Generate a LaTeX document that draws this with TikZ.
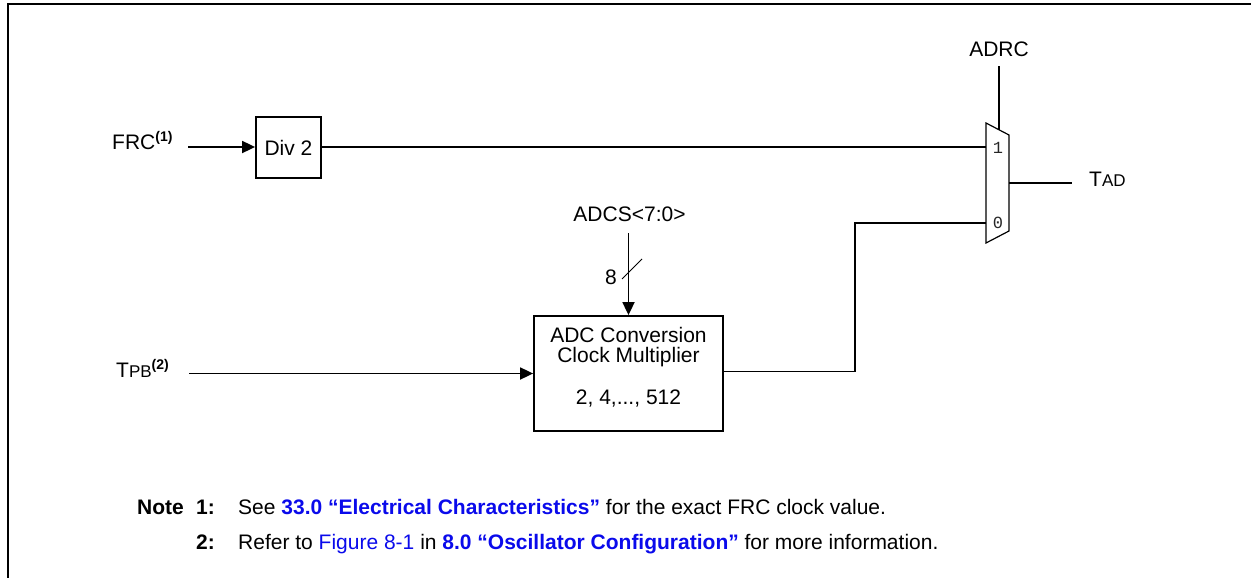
\documentclass[tikz,border=0pt]{standalone}
\usepackage{fontspec}
\setmainfont{Liberation Sans}
\newfontfamily\muxfont{Liberation Mono}
\usetikzlibrary{arrows.meta}
\definecolor{linkblue}{RGB}{10,10,235}
\newcommand{\supnum}[1]{\raisebox{7.5pt}{\fontsize{14}{14}\selectfont\bfseries #1}}
\begin{document}
\begin{tikzpicture}[x=1pt,y=-1pt,
  wire/.style={line width=1.8pt},
  arr/.style={wire,-{Triangle[length=13pt,width=12pt]}},
  blk/.style={draw,line width=1.8pt,inner sep=0pt},
  lbl/.style={font=\fontsize{21}{20}\selectfont,inner sep=0pt},
  notef/.style={font=\fontsize{21}{21}\selectfont,inner sep=0pt,anchor=base west},
  muxlbl/.style={font=\muxfont\fontsize{17}{17}\selectfont,inner sep=0pt,text=black!85}]
\useasboundingbox (0,0) rectangle (1251,578);
% frame
\draw[line width=2.2pt] (8,578) -- (8,4) -- (1251,4);

% FRC path
\node[lbl,anchor=base west] (frc) at (112,149) {FRC\supnum{(1)}};
\coordinate (frcin) at (188,147);
\node[blk,lbl,minimum width=65pt,minimum height=61pt] (div) at (288.5,147.5) {Div 2};
\draw[arr] (frcin) -- (frcin -| div.west);

% mux
\coordinate (ma) at (986,123);
\coordinate (mb) at (1009,135);
\coordinate (mc) at (1009,231);
\coordinate (md) at (986,243);
\draw[line width=1.2pt] (ma) -- (mb) -- (mc) -- (md) -- cycle;
\coordinate (mux1) at (986,147);
\coordinate (mux0) at (986,223);
\coordinate (muxout) at (1009,183);
\coordinate (muxsel) at (999,129.5);
\node[muxlbl] (l1) at (998,147.5) {1};
\node[muxlbl] (l0) at (998,222.5) {0};

\draw[wire] (div.east |- mux1) -- (mux1);

\node[lbl,anchor=base] (adrc) at (999,57) {ADRC};
\draw[wire,shorten <=9pt] (adrc.south) -- (muxsel);

\node[lbl,anchor=base west] (tad) at (1089,186) {T{\fontsize{17}{17}\selectfont AD}};
\draw[wire,shorten >=17pt] (muxout) -- (muxout -| tad.west);

% multiplier
\node[blk,minimum width=189pt,minimum height=115pt] (mult) at (628.5,373.5) {};
\node[lbl,align=center] (multtxt) at (628.5,367) {ADC Conversion\\Clock Multiplier\\[22pt]2, 4,..., 512};

\node[lbl,anchor=base] (adcs) at (629.5,221) {ADCS<7:0>};
\draw[arr,shorten <=12pt] (adcs.south -| mult.north) -- (mult.north);
\draw[line width=0.8pt] (622,279) -- (642,259);
\node[lbl] (bw) at (611,277) {8};

\node[lbl,anchor=base west] (tpb) at (116,377) {T{\fontsize{17}{17}\selectfont PB}\supnum{(2)}};
\coordinate (tpbin) at (189,373.5);
\draw[arr] (tpbin) -- (mult.west);

\draw[wire] ([yshift=2pt]mult.east) -| (855,223) -- (mux0);

% notes
\node[notef] (note) at (137,514) {\bfseries Note};
\node[notef] (n1) at (196,514) {\bfseries 1:};
\node[notef] (n1t) at (238,514) {See \textcolor{linkblue}{\bfseries 33.0 “Electrical Characteristics”} for the exact FRC clock value.};
\node[notef] (n2) at (196,549) {\bfseries 2:};
\node[notef] (n2t) at (238,549) {Refer to \textcolor{linkblue}{Figure 8-1} in \textcolor{linkblue}{\bfseries 8.0 “Oscillator Configuration”} for more information.};
\end{tikzpicture}
\end{document}
